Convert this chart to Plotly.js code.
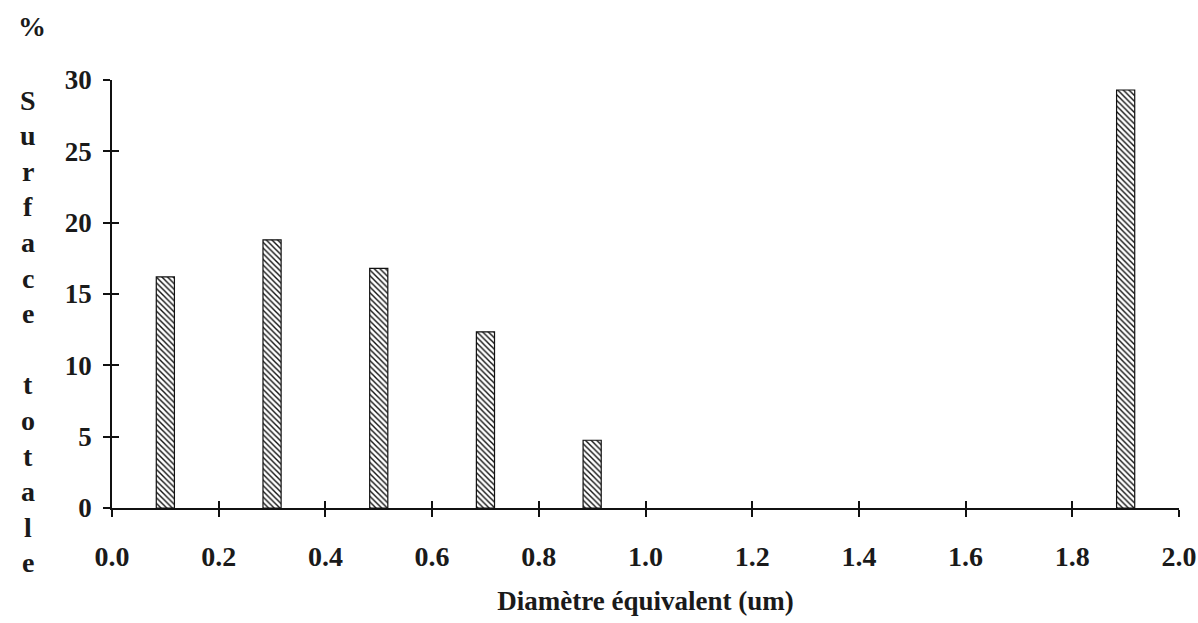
<!DOCTYPE html>
<html><head><meta charset="utf-8">
<script src="https://cdn.plot.ly/plotly-3.0.1.min.js"></script>
<style>body{margin:0;background:#fff}#c{width:1198px;height:623px}</style>
</head><body><div id="c"></div>
<script>
const diametre = [0.1, 0.3, 0.5, 0.7, 0.9, 1.9];
const surface = [16.2, 18.8, 16.8, 12.35, 4.75, 29.3];
const xTicks = [0, 0.2, 0.4, 0.6, 0.8, 1.0, 1.2, 1.4, 1.6, 1.8, 2.0];
const xTickText = ["0.0","0.2","0.4","0.6","0.8","1.0","1.2","1.4","1.6","1.8","2.0"];
const yTicks = [0, 5, 10, 15, 20, 25, 30];
const yTitleLetters = ["S","u","r","f","a","c","e","","t","o","t","a","l","e"];

const font = {family: "Liberation Serif, Times New Roman, serif", color: "#1a1a1a", weight: "bold"};
const F = function(s){ return Object.assign({size: s}, font); };

const trace = {
  type: "bar", x: diametre, y: surface, width: 0.034,
  marker: {color: "#ffffff", line: {color: "#111", width: 1.2},
    pattern: {shape: "\\", fgcolor: "#111", bgcolor: "#ffffff", size: 4, solidity: 0.35}},
  hoverinfo: "x+y", showlegend: false
};
const axBase = {showgrid: false, zeroline: false, showline: true, linecolor: "#111", linewidth: 1.5,
  tickcolor: "#111", tickwidth: 1.5};

// plot area: x 112..1179, y 80..508
const plotTop = 80, plotBottom = 508;
const plotH = plotBottom - plotTop;
const letterAnns = yTitleLetters.map(function(c, i){
  return {text: c || " ", xref: "paper", yref: "paper", x: -0.0787,
    y: (plotBottom - (100 + i * 35.6)) / plotH, xanchor: "center", yanchor: "middle",
    showarrow: false, font: F(28)};
});

const layout = {
  width: 1198, height: 623, paper_bgcolor: "#fff", plot_bgcolor: "#fff",
  margin: {l: 112, r: 19, t: plotTop, b: 623 - plotBottom},
  xaxis: Object.assign({}, axBase, {range: [0, 2], tickvals: xTicks, ticktext: xTickText,
    ticks: "outside", ticklen: 7, ticklabelstandoff: 16, tickfont: F(28),
    title: {text: "Diamètre équivalent (um)", font: F(27), standoff: 20}}),
  xaxis2: {overlaying: "x", range: [0, 2], tickvals: xTicks, showticklabels: false, ticks: "inside",
    ticklen: 7, tickcolor: "#111", tickwidth: 1.5, showgrid: false, zeroline: false, showline: false, anchor: "y"},
  yaxis: Object.assign({}, axBase, {range: [0, 30], tickvals: yTicks, ticks: "outside", ticklen: 7,
    ticklabelstandoff: 6, tickfont: F(27)}),
  yaxis2: {overlaying: "y", range: [0, 30], tickvals: yTicks, showticklabels: false, ticks: "inside",
    ticklen: 7, tickcolor: "#111", tickwidth: 1.5, showgrid: false, zeroline: false, showline: false, anchor: "x"},
  annotations: [
    {text: "%", xref: "paper", yref: "paper", x: -0.075, y: (plotBottom - 27) / plotH,
     xanchor: "center", yanchor: "middle", showarrow: false, font: F(28)}
  ].concat(letterAnns)
};
const ghostX = {type: "scatter", x: [0], y: [0], xaxis: "x2", yaxis: "y", mode: "markers",
  marker: {opacity: 0}, hoverinfo: "skip", showlegend: false};
const ghostY = {type: "scatter", x: [0], y: [0], xaxis: "x", yaxis: "y2", mode: "markers",
  marker: {opacity: 0}, hoverinfo: "skip", showlegend: false};
Plotly.newPlot("c", [trace, ghostX, ghostY], layout, {displayModeBar: false});
</script></body></html>
